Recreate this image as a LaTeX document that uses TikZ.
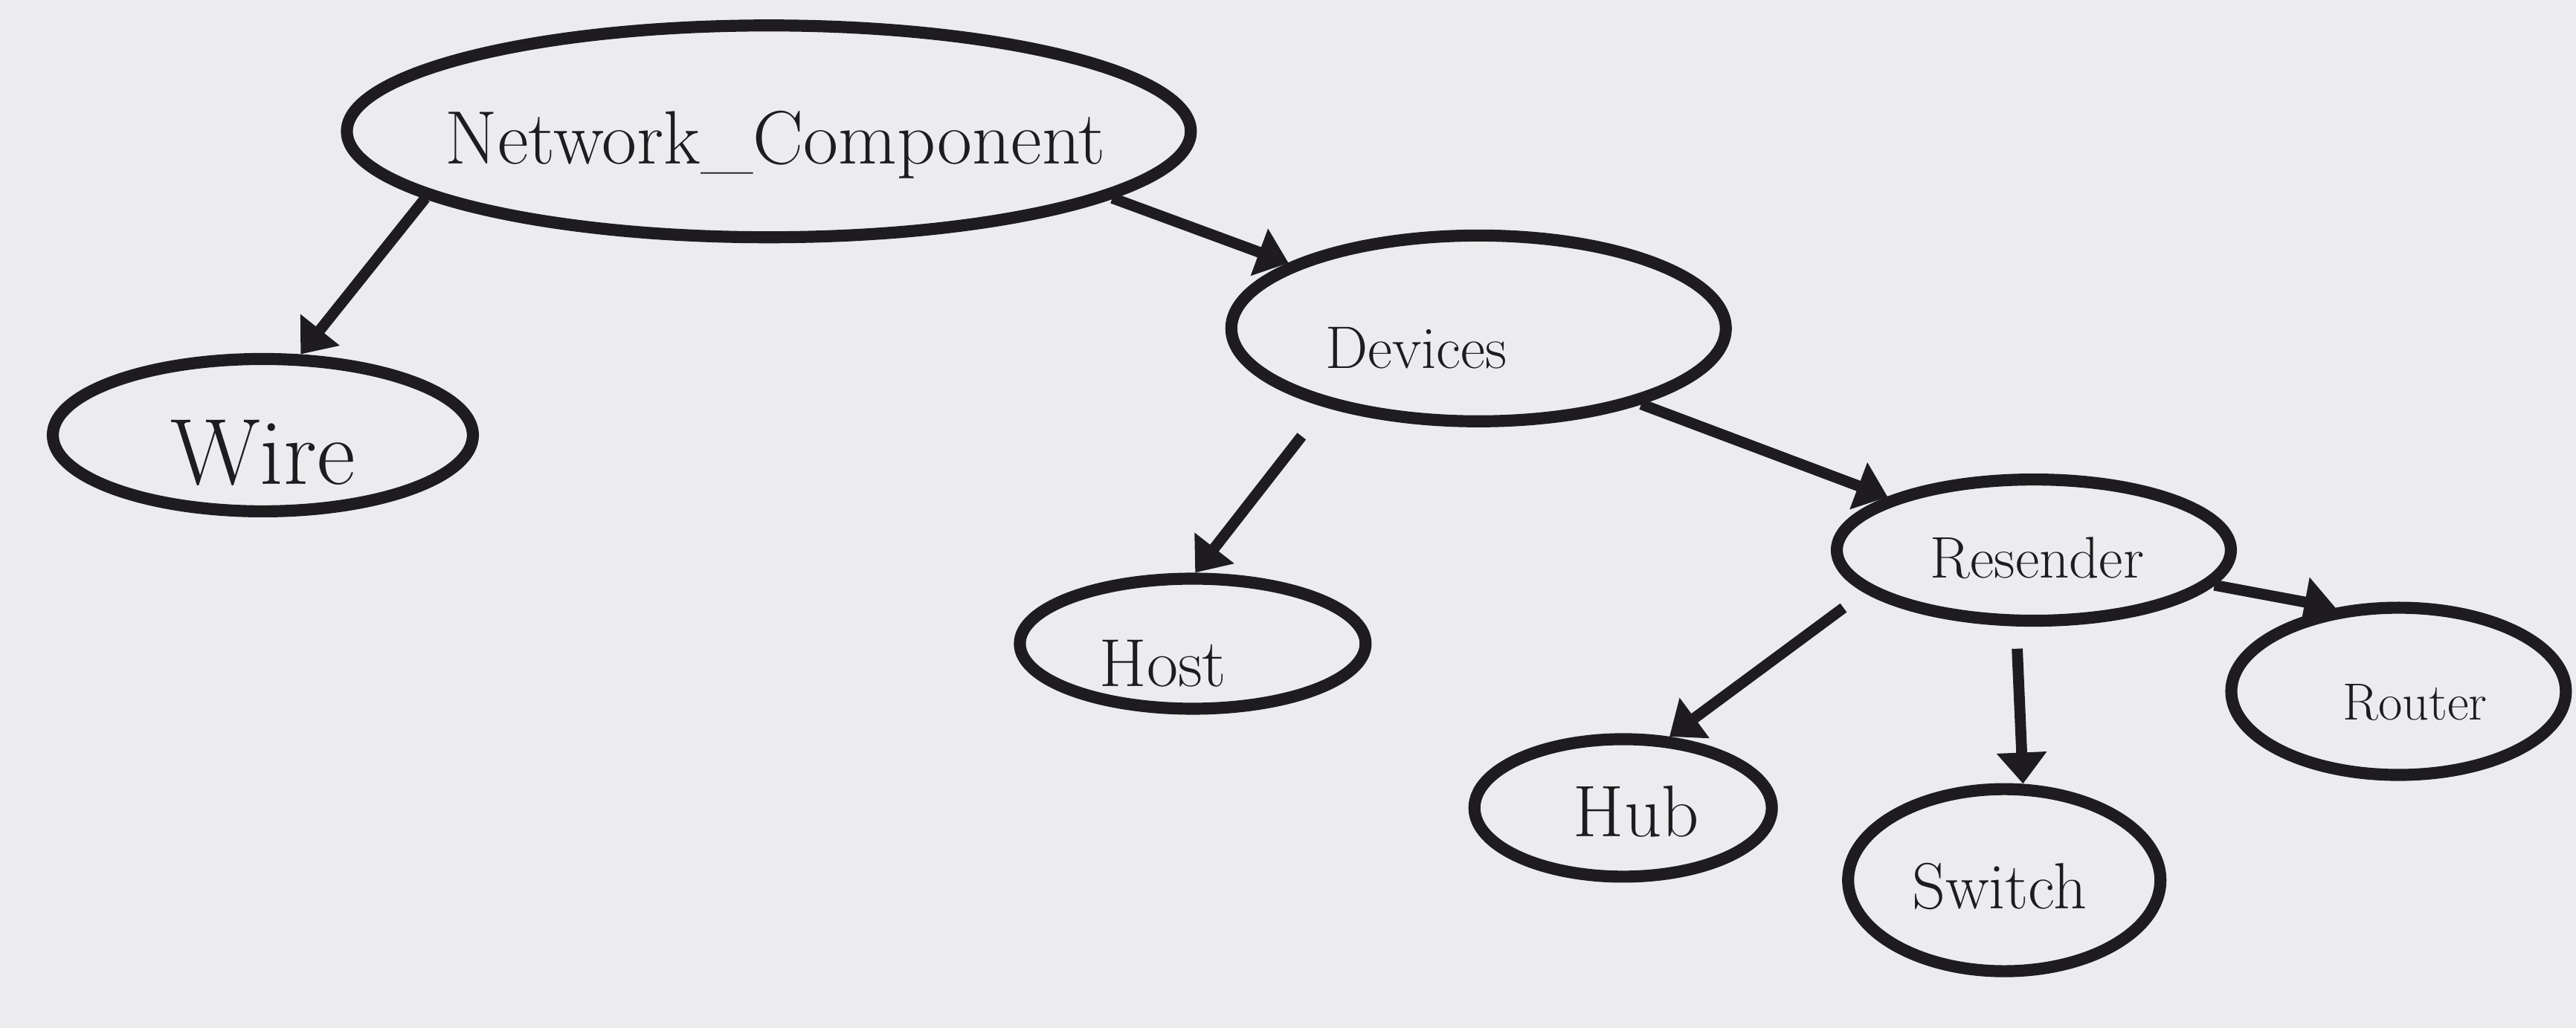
\documentclass[tikz,border=0pt]{standalone}
\usetikzlibrary{arrows.meta,shapes.geometric}
\definecolor{paper}{RGB}{236,236,238}
\definecolor{ink}{RGB}{30,28,30}
\tikzset{
  bubble/.style={ellipse, draw=ink, line width=4.6pt, inner sep=0pt},
  lbl/.style={text=ink, inner sep=0pt},
  arr/.style={draw=ink, line width=4.2pt, -{Triangle[length=4.2mm,width=6.5mm]}},
}
\newcommand{\fs}[1]{\fontsize{#1}{#1}\selectfont}
\begin{document}
\begin{tikzpicture}[x=0.022092cm,y=-0.022092cm]
\fill[paper] (0,0) rectangle (1568,626);
\useasboundingbox (0,0) rectangle (1568,626);
% ellipses
\node[bubble, minimum width=11.35cm, minimum height=2.85cm] (nc) at (468,80) {};
\node[bubble, minimum width=5.65cm, minimum height=2.05cm] (wire) at (160,265) {};
\node[bubble, minimum width=6.65cm, minimum height=2.5cm] (dev) at (900,200) {};
\node[bubble, minimum width=4.65cm, minimum height=1.75cm] (host) at (726,392) {};
\node[bubble, minimum width=5.3cm, minimum height=1.9cm] (res) at (1238,335) {};
\node[bubble, minimum width=4.0cm, minimum height=1.85cm] (hub) at (988,492) {};
\node[bubble, minimum width=4.2cm, minimum height=2.45cm] (sw) at (1220,536) {};
\node[bubble, minimum width=4.5cm, minimum height=2.25cm] (rt) at (1460,421) {};
% texts
\node[lbl] (tnc) at (472,88) {\fs{29}Network\_Component};
\node[lbl] (twire) at (160,276) {\fs{36}Wire};
\node[lbl] (tdev) at (862,212) {\fs{23}Devices};
\node[lbl] (thost) at (708,404) {\fs{26}Host};
\node[lbl] (tres) at (1240,340) {\fs{22.5}Resender};
\node[lbl] (thub) at (996,494) {\fs{28}Hub};
\node[lbl] (tsw) at (1217,540) {\fs{25}Switch};
\node[lbl] (trt) at (1470,428) {\fs{20}Router};
% arrows
\draw[arr] (nc.191) -- (wire.65);
\draw[arr] (nc.349) -- (dev.161);
\draw[arr, shorten <=5mm] (dev.207) -- (host.88);
\draw[arr] (dev.335) -- (res.160);
\draw[arr, shorten <=3.5mm] (res.194) -- (hub.57);
\draw[arr, shorten <=3mm] (res.257) -- (sw.79);
\draw[arr] (res.349) -- (rt.127);
\end{tikzpicture}
\end{document}
